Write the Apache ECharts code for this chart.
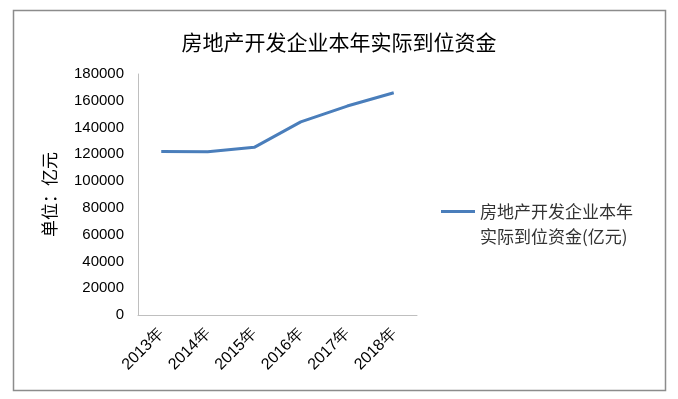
<!DOCTYPE html>
<html>
<head>
<meta charset="utf-8">
<script src="https://cdn.jsdelivr.net/npm/echarts@6/dist/echarts.min.js"></script>
<style>
  html, body { margin: 0; padding: 0; background: #fff; }
  #chart { width: 678px; height: 399px; }
</style>
</head>
<body>
<div id="chart"></div>
<script>
const years = ['2013年', '2014年', '2015年', '2016年', '2017年', '2018年']
const funds = [122122, 121991, 125203, 144214, 156053, 165963]
const seriesName = '房地产开发企业本年\n实际到位资金(亿元)'

const chart = echarts.init(document.getElementById('chart'))

chart.setOption({
  animation: false,
  title: {
    text: '房地产开发企业本年实际到位资金',
    left: 'center',
    top: 27,
    textStyle: {
      fontFamily: 'Noto Sans CJK SC',
      fontSize: 21,
      fontWeight: 'normal',
      color: '#000'
    }
  },
  graphic: [{
    type: 'rect',
    shape: { x: 13.5, y: 10.5, width: 652, height: 380 },
    style: { fill: 'none', stroke: '#8c8c8c', lineWidth: 1.5 },
    silent: true
  }],
  legend: {
    left: 441,
    top: 199,
    padding: 0,
    itemWidth: 34,
    itemHeight: 28,
    itemGap: 0,
    icon: 'path://M0,0H34V3H0Z M0,28L0,28',
    textStyle: {
      fontFamily: 'Noto Sans CJK SC',
      fontSize: 17,
      lineHeight: 25,
      color: '#333'
    }
  },
  grid: {
    left: 138,
    right: 261,
    top: 74,
    bottom: 84
  },
  xAxis: {
    type: 'category',
    data: years,
    boundaryGap: true,
    axisLine: { lineStyle: { color: '#bfbfbf', width: 1 } },
    axisTick: { show: false },
    axisLabel: {
      rotate: 45,
      margin: 16,
      fontFamily: 'Liberation Sans',
      fontSize: 16,
      color: '#000'
    }
  },
  yAxis: {
    type: 'value',
    min: 0,
    max: 180000,
    interval: 20000,
    name: '单位：亿元',
    nameLocation: 'middle',
    nameGap: 80,
    nameTextStyle: {
      fontFamily: 'Noto Sans CJK SC',
      fontSize: 17,
      color: '#000'
    },
    axisLine: { show: true, lineStyle: { color: '#bfbfbf', width: 1 } },
    axisTick: { show: false },
    splitLine: { show: false },
    axisLabel: {
      margin: 14,
      formatter: v => String(v),
      fontFamily: 'Liberation Sans',
      fontSize: 15,
      color: '#000'
    }
  },
  series: [{
    name: seriesName,
    type: 'line',
    data: funds,
    symbol: 'none',
    lineStyle: { color: '#4a7ebb', width: 3 },
    itemStyle: { color: '#4a7ebb' }
  }]
})
</script>
</body>
</html>
